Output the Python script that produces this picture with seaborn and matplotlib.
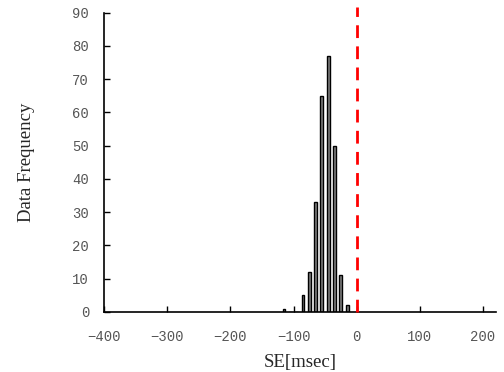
import numpy as np
import pandas as pd
import matplotlib
matplotlib.use("Agg")
import matplotlib.pyplot as plt
import seaborn as sns

# bin centres [msec] and counts
se_centres = [-115, -85, -75, -65, -55, -45, -35, -25, -15]
counts = [1, 5, 12, 33, 65, 77, 50, 11, 2]
x_ticks = [-400, -300, -200, -100, 0, 100, 200]
y_ticks = [0, 10, 20, 30, 40, 50, 60, 70, 80, 90]

df = pd.DataFrame({"se": se_centres, "n": counts})

sns.set_style("white")
plt.rcParams["font.family"] = ["Liberation Mono", "DejaVu Sans"]

fig = plt.figure(figsize=(5.04, 3.72), dpi=100)
ax = fig.add_axes([0.207, 0.1613, 0.777, 0.8046])

sns.histplot(data=df, x="se", weights="n", binwidth=10, binrange=(-120, -10),
             shrink=0.45, color="#808080", edgecolor="black", linewidth=1,
             alpha=1, ax=ax)

# reference line at zero
ax.axvline(0, ymin=0, ymax=1.02, color="#ff0000", linestyle=(0, (4.6, 3.0)),
           linewidth=2.0, clip_on=False, zorder=5)

ax.set_xlim(-400, 221)
ax.set_ylim(0, 90)
ax.set_xticks(x_ticks)
ax.set_yticks(y_ticks)

sns.despine(ax=ax)
for s in ["left", "bottom"]:
    ax.spines[s].set_linewidth(1.2)
    ax.spines[s].set_color("black")

ax.tick_params(axis="both", direction="in", length=4, width=1, color="black",
               labelsize=10, labelcolor="#555555", bottom=True, left=True)
ax.tick_params(axis="x", pad=13)
ax.tick_params(axis="y", pad=11)

ax.set_xlabel("SE[msec]", fontfamily="Liberation Serif", fontsize=13.5, labelpad=7)
ax.set_ylabel("Data Frequency", fontfamily="Liberation Serif", fontsize=13.5, labelpad=27)

fig.savefig("out.png", dpi=100)
